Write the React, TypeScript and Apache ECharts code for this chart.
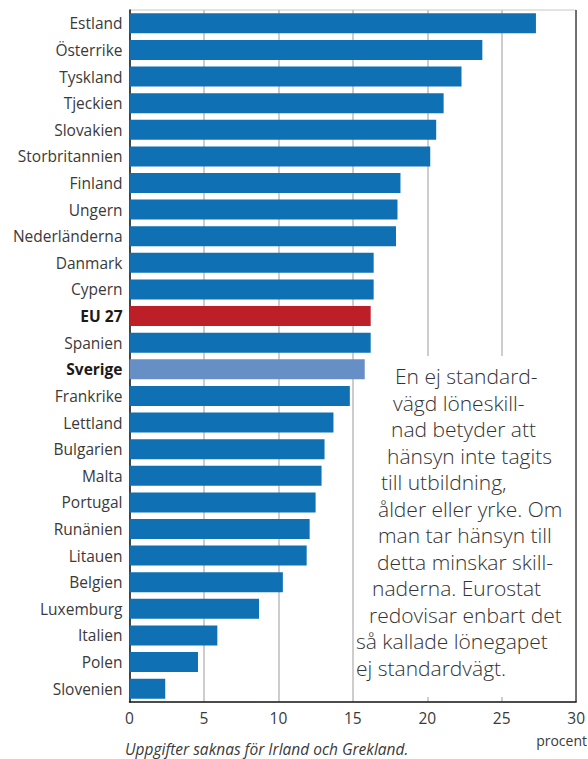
import React, { useEffect, useRef } from "react";
import * as echarts from "echarts";

const categories = [
  "Estland", "Österrike", "Tyskland", "Tjeckien", "Slovakien", "Storbritannien",
  "Finland", "Ungern", "Nederländerna", "Danmark", "Cypern", "EU 27", "Spanien",
  "Sverige", "Frankrike", "Lettland", "Bulgarien", "Malta", "Portugal", "Runänien",
  "Litauen", "Belgien", "Luxemburg", "Italien", "Polen", "Slovenien",
];
const values = [
  27.3, 23.7, 22.3, 21.1, 20.6, 20.2, 18.2, 18.0, 17.9, 16.4, 16.4, 16.2, 16.2,
  15.8, 14.8, 13.7, 13.1, 12.9, 12.5, 12.1, 11.9, 10.3, 8.7, 5.9, 4.6, 2.4,
];
const highlightRed = ["EU 27"];
const highlightLight = ["Sverige"];
const boldLabels = ["EU 27", "Sverige"];
const xTicks = [0, 5, 10, 15, 20, 25, 30];
const noteLines = [
  "En ej standard-",
  "vägd löneskill-",
  "nad betyder att",
  "hänsyn inte tagits",
  "till utbildning,",
  "ålder eller yrke. Om",
  "man tar hänsyn till",
  "detta minskar skill-",
  "naderna. Eurostat",
  "redovisar enbart det",
  "så kallade lönegapet",
  "ej standardvägt.",
];
const noteX = [395, 393, 391, 387, 381, 378, 378, 377, 372, 369, 356, 356];
const footnote = "Uppgifter saknas för Irland och Grekland.";
const unitLabel = "procent";

const FONT = "'Open Sans', 'Noto Sans', sans-serif";

export default function App() {
  const ref = useRef<HTMLDivElement>(null);
  useEffect(() => {
    if (!ref.current) return;
    const chart = echarts.init(ref.current, undefined, { renderer: "svg" });
    const data = values.map((v, i) => {
      const name = categories[i];
      let color = "#0f70b3";
      if (highlightRed.includes(name)) color = "#bd1f29";
      if (highlightLight.includes(name)) color = "#6690c5";
      return { value: v, itemStyle: { color } };
    });
    const graphics: any[] = [
      {
        type: "rect",
        z: 1,
        shape: { x: 368, y: 356, width: 206, height: 341 },
        style: { fill: "#ffffff" },
      },
      ...noteLines.map((t, i) => ({
        type: "text",
        z: 5,
        x: noteX[i],
        y: 376 + i * 26.5,
        style: {
          text: t,
          fontSize: 21,
          fontFamily: FONT,
          fontWeight: 300,
          fill: "#333333",
          verticalAlign: "middle",
          align: "left",
        },
      })),
      {
        type: "text",
        x: 125,
        y: 749,
        style: {
          text: footnote,
          fontSize: 15.5,
          fontStyle: "italic",
          fontFamily: FONT,
          fill: "#3a3a3a",
          verticalAlign: "middle",
          align: "left",
        },
      },
      {
        type: "text",
        x: 587,
        y: 740,
        style: {
          text: unitLabel,
          fontSize: 14,
          fontFamily: FONT,
          fill: "#3a3a3a",
          verticalAlign: "middle",
          align: "right",
        },
      },
    ];
    chart.setOption({
      animation: false,
      backgroundColor: "#ffffff",
      grid: {
        left: 129.5,
        right: 10.3,
        top: 10,
        bottom: 57,
        show: true,
        borderColor: "#c8c8c8",
        borderWidth: 1,
        containLabel: false,
      },
      xAxis: {
        type: "value",
        min: 0,
        max: 30,
        interval: 5,
        axisLine: { show: true, onZero: false, lineStyle: { color: "#1a1a1a", width: 1.5 } },
        axisTick: { show: false },
        axisLabel: {
          margin: 8,
          fontSize: 15.5,
          fontFamily: FONT,
          color: "#3a3a3a",
          formatter: (v: number) => (xTicks.includes(v) ? String(v) : ""),
        },
        splitLine: {
          show: true,
          lineStyle: {
            color: ["#bdbdbd", "#bdbdbd", "#bdbdbd", "#bdbdbd", "#bdbdbd", "#bdbdbd", "#4a4a4a"],
            width: 1.5,
          },
        },
      },
      yAxis: {
        type: "category",
        data: categories,
        inverse: true,
        axisLine: { show: true, lineStyle: { color: "#1a1a1a", width: 1.5 } },
        axisTick: { show: false },
        axisLabel: {
          margin: 7,
          fontSize: 15.5,
          fontFamily: FONT,
          color: "#3a3a3a",
          formatter: (v: string) => (boldLabels.includes(v) ? `{b|${v}}` : v),
          rich: {
            b: {
              fontSize: 15.5,
              fontFamily: FONT,
              fontWeight: "bold",
              color: "#1a1a1a",
            },
          },
        },
      },
      series: [
        {
          type: "bar",
          data,
          barWidth: 20,
          z: 2,
        },
      ],
      graphic: graphics,
    });
    return () => chart.dispose();
  }, []);
  return (
    <div
      ref={ref}
      style={{ position: "fixed", left: 0, top: 0, width: 588, height: 759 }}
    />
  );
}
